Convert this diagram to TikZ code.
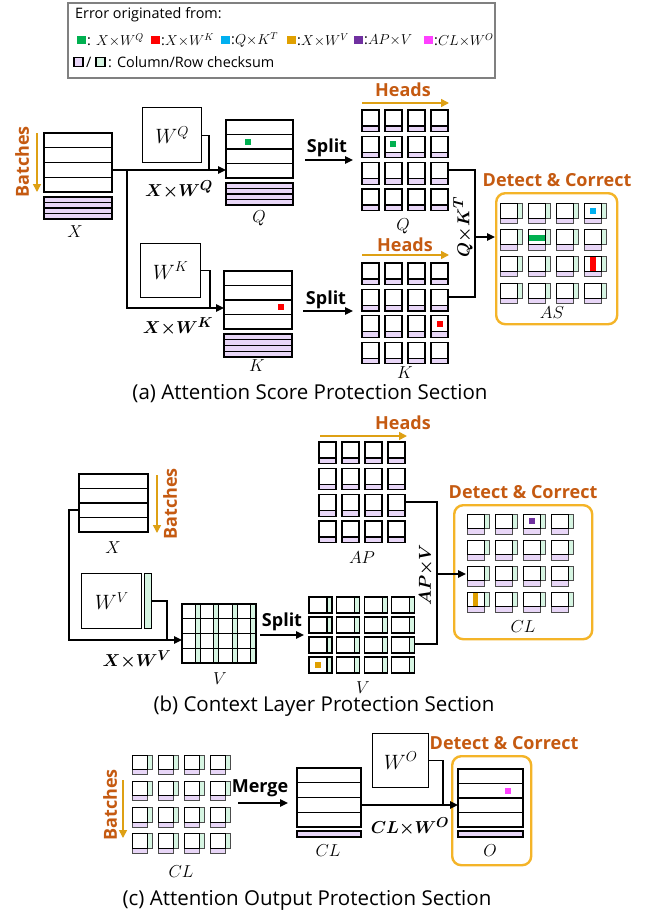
\documentclass[tikz,border=0pt]{standalone}
\usepackage{amsmath,bm}
\usepackage{fontspec}
\setmainfont{Open Sans}
\usetikzlibrary{arrows.meta}
\definecolor{brn}{RGB}{197,90,17}
\definecolor{gld}{RGB}{222,160,20}
\definecolor{boxc}{RGB}{244,180,40}
\definecolor{pchk}{RGB}{232,214,247}
\definecolor{gchk}{RGB}{214,245,226}
\definecolor{egreen}{RGB}{0,176,80}
\definecolor{ered}{RGB}{255,0,0}
\definecolor{eblue}{RGB}{0,176,240}
\definecolor{eorange}{RGB}{224,160,0}
\definecolor{epurple}{RGB}{112,48,160}
\definecolor{emag}{RGB}{255,64,255}
\definecolor{lgray}{RGB}{128,128,128}
\newcommand\legf{\fontsize{14.4}{16}\selectfont}
\newcommand\legm{\fontsize{14.4}{16}\selectfont}
\newcommand\labf{\fontsize{18}{21}\selectfont\bfseries}
\newcommand\capf{\fontsize{20.5}{24}\selectfont}
\newcommand\mthf{\fontsize{19}{22}\selectfont}
\newcommand\wfnt{\fontsize{20.5}{24}\selectfont}
\newcommand\bx{\mathord{\bm{\times}}}
\tikzset{
  wire/.style={line width=1.4pt},
  conn/.style={line width=1.4pt,-{Triangle[length=8pt,width=7.5pt]}},
  gldarrow/.style={line width=1.6pt,gld,-{Triangle[length=8pt,width=8pt]}},
  lbl/.style={font=\labf,inner sep=0},
  brnlbl/.style={font=\labf,text=brn,inner sep=0},
  mlbl/.style={font=\mthf,inner sep=0},
  captxt/.style={font=\capf,inner sep=0},
  legtxt/.style={font=\legf,inner sep=0,anchor=west},
  dcbox/.style={draw=boxc,line width=2.4pt,rounded corners=9pt,inner sep=0,anchor=north west},
  wbox/.style={draw,line width=1.4pt,fill=white,inner sep=0,anchor=north west,font=\wfnt},
}
% matrix with 4 rows
\newcommand\rowmat[5]{%
  \node[draw,line width=1.4pt,fill=white,inner sep=0,outer sep=0,anchor=north west,
        minimum width={(#4-#2)*1pt},minimum height={(#5-#3)*1pt}] (#1) at (#2,#3) {};
  \foreach \i in {1,2,3} \draw[line width=1.2pt] ({#2},{#3+\i*(#5-#3)/4}) -- ({#4},{#3+\i*(#5-#3)/4});
}
% 4-stripe column checksum
\newcommand\chkfour[4]{%
  \fill[pchk] (#1,#2) rectangle (#3,#4);
  \foreach \i in {1,2,3} \draw[line width=1.1pt] ({#1},{#2+\i*(#4-#2)/4}) -- ({#3},{#2+\i*(#4-#2)/4});
  \draw[line width=1.3pt] (#1,#2) rectangle (#3,#4);
}
\newcommand\chkone[4]{%
  \draw[line width=1.3pt,fill=pchk] (#1,#2) rectangle (#3,#4);
}
% head cell with column checksum (purple bottom)
\newcommand\pcell[2]{%
  \draw[line width=1.2pt,fill=white] ({#1},{#2}) rectangle ++(17,16);
  \draw[line width=1.2pt,fill=pchk] ({#1},{#2+16}) rectangle ++(17,5.5);
}
% head cell with row checksum (green right)
\newcommand\vcell[2]{%
  \draw[line width=1.2pt,fill=white] ({#1},{#2}) rectangle ++(18,16);
  \draw[line width=1.2pt,fill=gchk] ({#1+18},{#2}) rectangle ++(5,16);
}
% cell with both checksums: x y w h s
\newcommand\ascell[5]{%
  \draw[line width=0.9pt,draw=black!70,fill=gchk] ({#1+#3},{#2}) rectangle ++(#5,#4);
  \draw[line width=0.9pt,draw=black!70,fill=pchk] ({#1},{#2+#4}) rectangle ++(#3,#5);
  \draw[line width=1pt,fill=white] ({#1},{#2}) rectangle ++(#3,#4);
}
\begin{document}
\begin{tikzpicture}[x=1pt,y=-1pt]
\useasboundingbox (0,0) rectangle (652,916);
\fill[white] (0,0) rectangle (652,916);

% ---------------- legend ----------------
\node[draw=lgray,line width=2pt,inner sep=0,anchor=north west,minimum width=427pt,minimum height=75pt] (legend) at (67,1.5) {};
\node[legtxt] (lg1) at (75,15) {Error originated from:};
\fill[egreen] (77,35.5) rectangle ++(8.5,8.5);
\node[legtxt] (lgq) at (87,40) {: {\legm$X{\times}W^{Q}$}};
\fill[ered] (151,35.5) rectangle ++(8.5,8.5);
\node[legtxt] (lgk) at (161,40) {:{\legm$X{\times}W^{K}$}};
\fill[eblue] (221,35.5) rectangle ++(8.5,8.5);
\node[legtxt] (lgqk) at (231,40) {:{\legm$Q{\times}K^{T}$}};
\fill[eorange] (287,35.5) rectangle ++(8.5,8.5);
\node[legtxt] (lgv) at (297,40) {:{\legm$X{\times}W^{V}$}};
\fill[epurple] (354,35.5) rectangle ++(8.5,8.5);
\node[legtxt] (lgap) at (364,40) {:{\legm$AP{\times}V$}};
\fill[emag] (424,35.5) rectangle ++(8.5,8.5);
\node[legtxt] (lgo) at (434,40) {:{\legm$CL{\times}W^{O}$}};
\draw[line width=1.2pt,fill=pchk] (74,57.5) rectangle (83,66.5);
\node[legtxt] (lgsl) at (86,62) {/};
\draw[line width=1.2pt,fill=gchk] (96,57.5) rectangle (105,66.5);
\node[legtxt] (lg3) at (108,62) {: Column/Row checksum};

% ---------------- section (a) ----------------
\node[brnlbl,rotate=90] (bat1) at (22,162) {Batches};
\coordinate (ba1) at (37,133); \coordinate (ba2) at (37,192);
\draw[gldarrow] (ba1) -- (ba2);
\rowmat{Xa}{44}{133}{112}{192}
\chkfour{44}{197}{112}{219}
\node[mlbl] (Xal) at (75,232) {$X$};

\node[wbox,minimum width=59pt,minimum height=55pt] (WQ) at (142,107) {$W^{Q}$};
\rowmat{Qa}{226}{120}{293}{178}
\chkfour{226}{183}{293}{205}
\fill[egreen] (245,139) rectangle ++(6,6);
\node[mlbl] (Qal) at (259,218) {$Q$};

\node[wbox,minimum width=60pt,minimum height=54pt] (WK) at (140,243) {$W^{K}$};
\rowmat{Ka}{224}{271}{292}{329}
\chkfour{224}{334}{292}{357}
\fill[ered] (278,304) rectangle ++(6,6);
\node[mlbl] (Kal) at (257,366) {$K$};

\coordinate (xo) at (112,170);
\coordinate (br) at (127,170);
\coordinate (jq) at (209,170);
\coordinate (jk) at (210,308);
\draw[conn] (xo) -- (Qa.west |- xo);
\draw[wire] (WQ.east) -| (jq);
\draw[conn] (br) |- (Ka.west |- jk);
\draw[wire] (WK.east) -| (jk);
\node[mlbl] (lxq) at (179,190) {$\bm{X}\bx\bm{W}^{\bm{Q}}$};
\node[mlbl] (lxk) at (178,327) {$\bm{X}\bx\bm{W}^{\bm{K}}$};

% split arrows
\node[lbl] (sp1) at (327,148) {Split};
\coordinate (s1a) at (305,160); \coordinate (s1b) at (353,160);
\draw[conn] (s1a) -- (s1b);
\node[lbl] (sp2) at (326,300) {Split};
\coordinate (s2a) at (303,311); \coordinate (s2b) at (353,311);
\draw[conn] (s2a) -- (s2b);

% heads Q
\node[brnlbl] (hd1) at (403,90) {Heads};
\coordinate (h1a) at (362,103); \coordinate (h1b) at (449,103);
\draw[gldarrow] (h1a) -- (h1b);
\foreach \c in {0,...,3} \foreach \r in {0,...,3} {\pcell{362+23*\c}{110+26.3*\r}}
\fill[egreen] (390,141) rectangle ++(6,6);
\node[mlbl] (Qhl) at (403,226) {$Q$};
% heads K
\node[brnlbl] (hd2) at (405,245) {Heads};
\coordinate (h2a) at (362,255); \coordinate (h2b) at (449,255);
\draw[gldarrow] (h2a) -- (h2b);
\foreach \c in {0,...,3} \foreach \r in {0,...,3} {\pcell{362+23*\c}{263+26.4*\r}}
\fill[ered] (437,321) rectangle ++(6,6);
\node[mlbl] (Khl) at (405,373) {$K$};

% AS
\node[brnlbl] (dc1) at (557,180) {Detect \& Correct};
\node[dcbox,minimum width=121pt,minimum height=131pt] (AS) at (495,192) {};
\foreach \c in {0,...,3} \foreach \r in {0,...,3} {\ascell{500+28*\c}{203+26.7*\r}{17}{15}{5.5}}
\fill[eblue] (590,208) rectangle ++(6,6);
\fill[egreen] (529,235) rectangle (545,241);
\fill[ered] (590,257) rectangle (596,271);
\node[mlbl] (ASl) at (552,313) {$AS$};

\coordinate (qk1) at (448,170);
\coordinate (qk2) at (448,297);
\coordinate (qkj) at (475,237);
\draw[wire] (qk1) -| (qkj);
\draw[wire] (qk2) -| (qkj);
\draw[conn] (qkj) -- (AS.west |- qkj);
\node[mlbl,rotate=90] (lqk) at (463,227) {$\bm{Q}\bx\bm{K}^{\bm{T}}$};

\node[captxt] (capa) at (310,394) {(a) Attention Score Protection Section};

% ---------------- section (b) ----------------
\rowmat{Xb}{79}{474}{148}{532}
\node[mlbl] (Xbl) at (113,548) {$X$};
\node[brnlbl,rotate=90] (bat2) at (170,504) {Batches};
\coordinate (bb1) at (157,475); \coordinate (bb2) at (157,533);
\draw[gldarrow] (bb1) -- (bb2);

\node[wbox,minimum width=60pt,minimum height=55pt] (WV) at (81,573) {$W^{V}$};
\node[draw,line width=1.3pt,fill=gchk,inner sep=0,anchor=north west,minimum width=7pt,minimum height=55pt] (WVs) at (144,573) {};

% V matrix
\node[draw,line width=1.4pt,fill=white,inner sep=0,anchor=north west,minimum width=74pt,minimum height=59pt] (Vm) at (182,604) {};
\foreach \k in {0,...,3} {
  \fill[gchk] ({182+18.5*\k+13},604) rectangle ({182+18.5*\k+18},663);
  \draw[line width=0.9pt] ({182+18.5*\k+13},604) -- ({182+18.5*\k+13},663);
  \draw[line width=0.9pt] ({182+18.5*\k+18},604) -- ({182+18.5*\k+18},663);
}
\foreach \i in {1,2,3} \draw[line width=1pt] (182,{604+\i*14.75}) -- (256,{604+\i*14.75});
\draw[line width=1.4pt] (182,604) rectangle (256,663);
\node[mlbl] (Vml) at (220,679) {$V$};

\coordinate (xb) at (79,510);
\coordinate (xbl) at (69,510);
\coordinate (jv) at (167,640);
\draw[conn] (xb) -- (xbl) |- (Vm.west |- jv);
\draw[wire] (WVs.east) -| (jv);
\node[mlbl] (lxv) at (137,660) {$\bm{X}\bx\bm{W}^{\bm{V}}$};

\node[lbl] (sp3) at (282,622) {Split};
\coordinate (s3a) at (260,635); \coordinate (s3b) at (304,635);
\draw[conn] (s3a) -- (s3b);

% V heads
\foreach \c in {0,...,3} \foreach \r in {0,...,3} {\vcell{309+27.6*\c}{597+20*\r}}
\fill[eorange] (315,662) rectangle ++(6,6);
\node[mlbl] (Vhl) at (363,688) {$V$};

% AP heads
\node[brnlbl] (hd3) at (403,423) {Heads};
\coordinate (h3a) at (320,436); \coordinate (h3b) at (407,436);
\draw[gldarrow] (h3a) -- (h3b);
\foreach \c in {0,...,3} \foreach \r in {0,...,3} {\pcell{319+23*\c}{442+26.3*\r}}
\node[mlbl] (APl) at (362,558) {$AP$};

% CL box
\node[brnlbl] (dc2) at (523,492) {Detect \& Correct};
\node[dcbox,minimum width=138pt,minimum height=134pt] (CLbox) at (453,504) {};
\foreach \c in {0,...,3} \foreach \r in {0,...,3} {\ascell{467+28*\c}{514+26*\r}{17}{14.5}{5.5}}
\fill[epurple] (529,518) rectangle ++(6,6);
\fill[eorange] (473,593) rectangle (478,606);
\node[mlbl] (CLbl) at (523,627) {$CL$};

\coordinate (ap) at (405,502);
\coordinate (vv) at (415,644);
\coordinate (apj) at (437,574);
\coordinate (clin) at (466,574);
\draw[wire] (ap) -| (apj);
\draw[wire] (vv) -| (apj);
\draw[conn] (apj) -- (clin);
\node[mlbl,rotate=90] (lapv) at (426,575) {$\bm{AP}\bx\bm{V}$};

\node[captxt] (capb) at (324,706) {(b) Context Layer Protection Section};

% ---------------- section (c) ----------------
\foreach \c in {0,...,3} \foreach \r in {0,...,3} {\ascell{132+26*\c}{755+26.3*\r}{15.5}{14.5}{5}}
\node[brnlbl,rotate=90] (bat3) at (110,805) {Batches};
\coordinate (bc1) at (123,780); \coordinate (bc2) at (123,838);
\draw[gldarrow] (bc1) -- (bc2);
\node[mlbl] (CLgl) at (181,872) {$CL$};

\node[lbl] (mg) at (260,788) {Merge};
\coordinate (ma) at (238,803); \coordinate (mb) at (288,803);
\draw[conn] (ma) -- (mb);

\rowmat{CLc}{297}{768}{361}{827}
\chkone{297}{831}{361}{837}
\node[mlbl] (CLcl) at (328,851) {$CL$};

\node[wbox,minimum width=56pt,minimum height=54pt] (WO) at (372,733) {$W^{O}$};

\node[brnlbl] (dc3) at (504,743) {Detect \& Correct};
\node[dcbox,minimum width=79pt,minimum height=109pt] (Obox) at (451,755) {};
\rowmat{Oc}{458}{769}{523}{827}
\chkone{458}{831}{523}{837}
\fill[emag] (505,788) rectangle ++(6,6);
\node[mlbl] (Ocl) at (490,851) {$O$};

\coordinate (jo) at (443,805);
\draw[wire] (WO.east) -| (jo);
\draw[conn] (CLc.east |- jo) -- (Oc.west |- jo);
\node[mlbl] (lclo) at (410,827) {$\bm{CL}\bx\bm{W}^{\bm{O}}$};

\node[captxt] (capc) at (307,900) {(c) Attention Output Protection Section};
\end{tikzpicture}
\end{document}
